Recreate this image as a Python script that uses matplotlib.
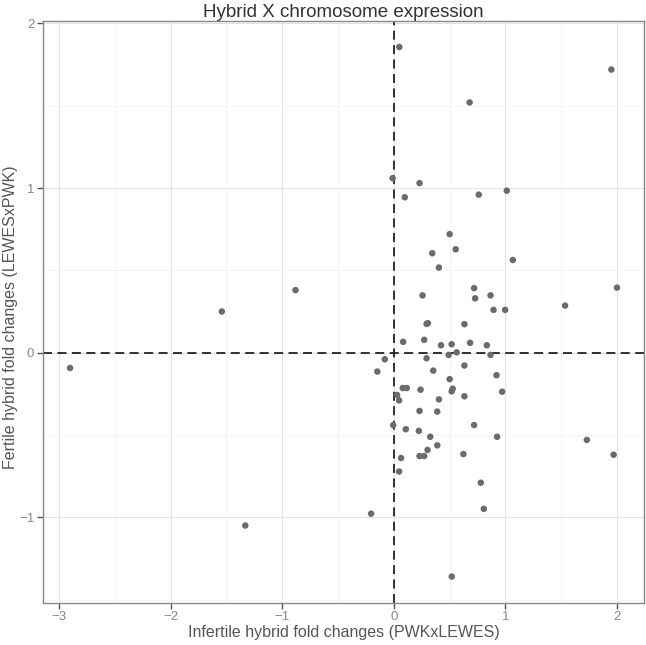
import matplotlib
matplotlib.use("Agg")
import matplotlib.pyplot as plt
import numpy as np

# Data: (infertile fold change, fertile fold change)
infertile = [
    -2.90, -1.54, -0.88, -1.33,
    0.05, 0.68, 1.95, 2.00, 1.535, 1.73, 1.97, 0.52,
    -0.01, 0.231, 0.099, 0.762, 1.013, 0.501, 0.555, 0.345, 0.405, 1.067,
    0.72, 0.258, 0.729, 0.867, 0.894, 0.998, 0.294, 0.306, 0.633,
    0.084, 0.273, 0.423, 0.519, 0.684, 0.834, 0.564, 0.492, 0.867, 0.294, -0.08,
    -0.147, 0.633, 0.354, 0.921, 0.501, 0.081, 0.117, 0.24, 0.528, 0.519,
    0.971, 0.03, 0.048, 0.633, 0.405, 0.231, 0.39, -0.005, 0.108, 0.225,
    0.72, 0.327, 0.926, 0.39, 0.303, 0.066, 0.231, 0.273, 0.624, 0.048,
    0.78, 0.807, -0.203,
]
fertile = [
    -0.093, 0.25, 0.38, -1.05,
    1.857, 1.52, 1.72, 0.395, 0.286, -0.53, -0.62, -1.36,
    1.06, 1.03, 0.944, 0.96, 0.984, 0.72, 0.628, 0.604, 0.517, 0.563,
    0.392, 0.348, 0.33, 0.348, 0.26, 0.26, 0.175, 0.179, 0.173,
    0.066, 0.078, 0.045, 0.051, 0.06, 0.045, 0.002, -0.014, -0.014, -0.034, -0.04,
    -0.115, -0.078, -0.109, -0.137, -0.161, -0.215, -0.215, -0.225, -0.219, -0.235,
    -0.237, -0.257, -0.29, -0.265, -0.284, -0.354, -0.358, -0.44, -0.465, -0.475,
    -0.44, -0.511, -0.511, -0.563, -0.591, -0.64, -0.628, -0.628, -0.616, -0.722,
    -0.79, -0.949, -0.978,
]
x_ticks = [-3, -2, -1, 0, 1, 2]
y_ticks = [-1, 0, 1, 2]
title = "Hybrid X chromosome expression"
xlabel = "Infertile hybrid fold changes (PWKxLEWES)"
ylabel = "Fertile hybrid fold changes (LEWESxPWK)"

plt.rcParams['font.family'] = ['Liberation Sans', 'DejaVu Sans']

fig = plt.figure(figsize=(6.46, 6.45), dpi=100)
ax = fig.add_axes([0.0661, 0.0651, 0.9313, 0.9031])

x = np.array(infertile)
y = np.array(fertile)
xr = x.max() - x.min()
yr = y.max() - y.min()

ax.set_xticks(x_ticks)
ax.set_yticks(y_ticks)
ax.set_xticks(np.arange(-3, 2.6, 0.5), minor=True)
ax.set_yticks(np.arange(-1.5, 2.1, 0.5), minor=True)
ax.set_xlim(x.min() - 0.05 * xr, x.max() + 0.05 * xr)
ax.set_ylim(y.min() - 0.05 * yr, y.max() + 0.05 * yr)

ax.grid(True, which='major', color='#e3e3e3', linewidth=0.8)
ax.grid(True, which='minor', color='#f3f3f3', linewidth=0.6)
ax.set_axisbelow(True)
ax.tick_params(which='minor', length=0)
ax.tick_params(which='major', length=4, width=1.0, color='#555555',
               labelcolor='#888888', labelsize=9.5, pad=2)
for s in ax.spines.values():
    s.set_color('#888888')
    s.set_linewidth(1.0)

ax.axhline(0, color='#222222', linestyle=(0, (5, 3)), linewidth=1.3, zorder=2)
ax.axvline(0, color='#222222', linestyle=(0, (5, 3)), linewidth=1.3, zorder=2)

ax.scatter(x, y, s=22, color='#6b6b6b', edgecolors='none', zorder=3)

ax.set_title(title, fontsize=13.5, color='#333333', pad=1)
ax.set_xlabel(xlabel, fontsize=11.5, color='#555555', labelpad=1)
ax.set_ylabel(ylabel, fontsize=11.5, color='#555555', va='center')
ax.yaxis.set_label_coords(-0.054, 0.49)

fig.savefig("out.png", dpi=100)
